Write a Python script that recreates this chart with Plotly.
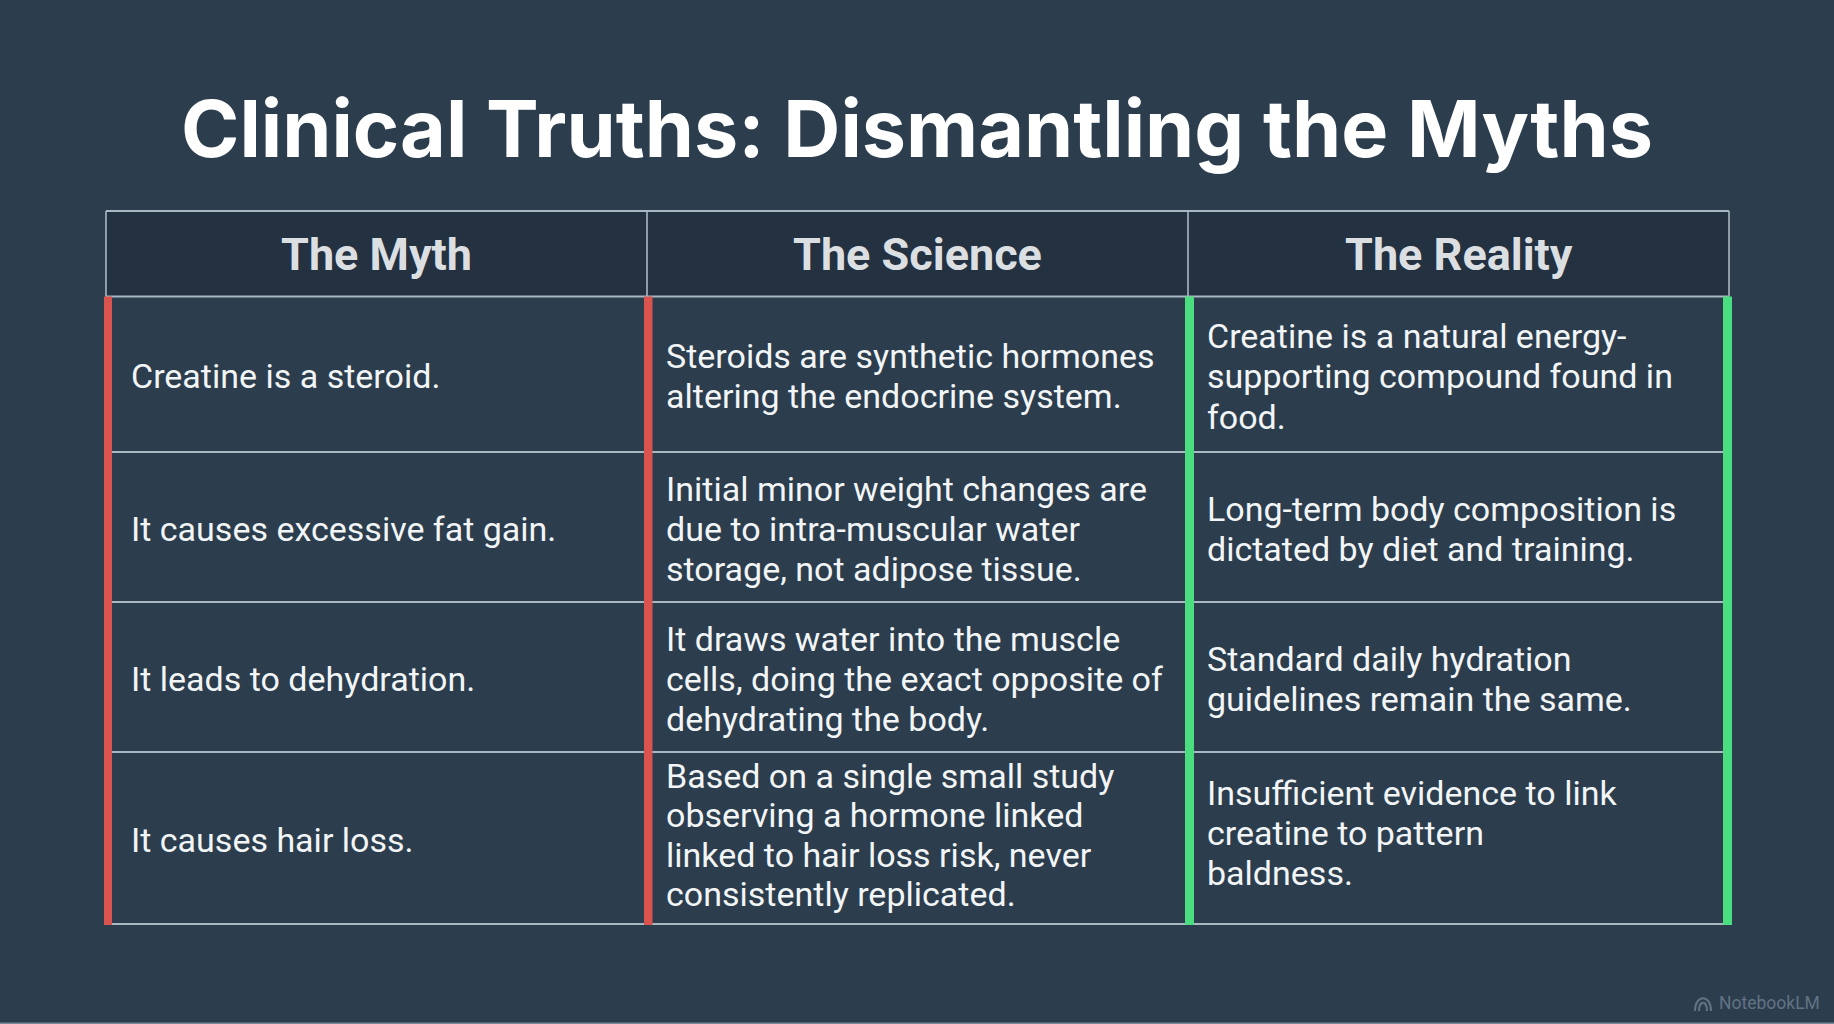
import plotly.graph_objects as go

title = "Clinical Truths: Dismantling the Myths"
headers = ["The Myth", "The Science", "The Reality"]
myths = [
    ["Creatine is a steroid."],
    ["It causes excessive fat gain."],
    ["It leads to dehydration."],
    ["It causes hair loss."],
]
science = [
    ["Steroids are synthetic hormones", "altering the endocrine system."],
    ["Initial minor weight changes are", "due to intra-muscular water", "storage, not adipose tissue."],
    ["It draws water into the muscle", "cells, doing the exact opposite of", "dehydrating the body."],
    ["Based on a single small study", "observing a hormone linked", "linked to hair loss risk, never", "consistently replicated."],
]
reality = [
    ["Creatine is a natural energy-", "supporting compound found in", "food."],
    ["Long-term body composition is", "dictated by diet and training."],
    ["Standard daily hydration", "guidelines remain the same."],
    ["Insufficient evidence to link", "creatine to pattern", "baldness."],
]

BG = "#2c3d4e"
HEADER_BG = "#233140"
LINE = "#a9b8c2"
RED = "#d9534f"
GREEN = "#4ade80"
TEXT = "#f2f5f6"
MARK = "#627384"

# table geometry in page pixels
col_x = [106, 647, 1188, 1729]
row_y = [211, 296.5, 452, 602, 752, 924]
text_x = [129, 664, 1204.5]
line_pitch = 40.4

fig = go.Figure()

# header band
fig.add_shape(type="rect", x0=col_x[0], x1=col_x[-1], y0=row_y[0], y1=row_y[1],
              fillcolor=HEADER_BG, line_width=0, layer="below")

# grid lines
for y in row_y:
    fig.add_shape(type="line", x0=col_x[0], x1=col_x[-1], y0=y, y1=y,
                  line=dict(color=LINE, width=2))
for x in col_x:
    fig.add_shape(type="line", x0=x, x1=x, y0=row_y[0], y1=row_y[1],
                  line=dict(color=LINE, width=1.6))

# coloured bars on the body columns
bars = [(104, 112, RED), (644, 652.5, RED), (1185, 1194, GREEN), (1723, 1732, GREEN)]
for x0, x1, color in bars:
    fig.add_shape(type="rect", x0=x0, x1=x1, y0=row_y[1], y1=row_y[-1] + 1,
                  fillcolor=color, line_width=0)

fig.add_annotation(x=917, y=128, text="<b>" + title + "</b>", showarrow=False,
                   font=dict(family="Inter", size=79, color="#ffffff"))

for i, h in enumerate(headers):
    fig.add_annotation(x=(col_x[i] + col_x[i + 1]) / 2, y=254.5, text="<b>" + h + "</b>",
                       showarrow=False, font=dict(family="Roboto", size=45, color="#dcdfe2"))

# each text line is placed on its own, the source leading is tighter than plotly's
for c, column in enumerate([myths, science, reality]):
    for r, cell in enumerate(column):
        mid = (row_y[r + 1] + row_y[r + 2]) / 2 + 2
        pitch = line_pitch
        if r == 3 and c == 1:
            mid -= 5
            pitch = 39.4
        if r == 3 and c == 2:
            mid -= 7
        for k, line in enumerate(cell):
            fig.add_annotation(x=text_x[c], y=mid + (k - (len(cell) - 1) / 2) * pitch,
                               text=line, showarrow=False, xanchor="left",
                               font=dict(family="Roboto", size=34, color=TEXT))

# watermark, small dome icon and name
fig.add_shape(type="path", path="M 1695 1011 C 1695 994, 1711 994, 1711 1011 M 1699 1011 C 1699 1000, 1707 1000, 1707 1011",
              line=dict(color=MARK, width=2))
fig.add_annotation(x=1822, y=1003, text="NotebookLM", showarrow=False, xanchor="right",
                   font=dict(family="Roboto", size=17.5, color=MARK))

# thin light edge along the bottom of the page
fig.add_shape(type="rect", x0=0, x1=1834, y0=1022.5, y1=1024, fillcolor="#74889a", line_width=0)

fig.update_layout(
    width=1834, height=1024,
    margin=dict(l=0, r=0, t=0, b=0),
    paper_bgcolor=BG, plot_bgcolor=BG,
    showlegend=False,
    xaxis=dict(range=[0, 1834], visible=False),
    yaxis=dict(range=[1024, 0], visible=False),
)

fig.write_html("out.html", config={"displayModeBar": False},
               post_script="document.body.style.margin='0';")
